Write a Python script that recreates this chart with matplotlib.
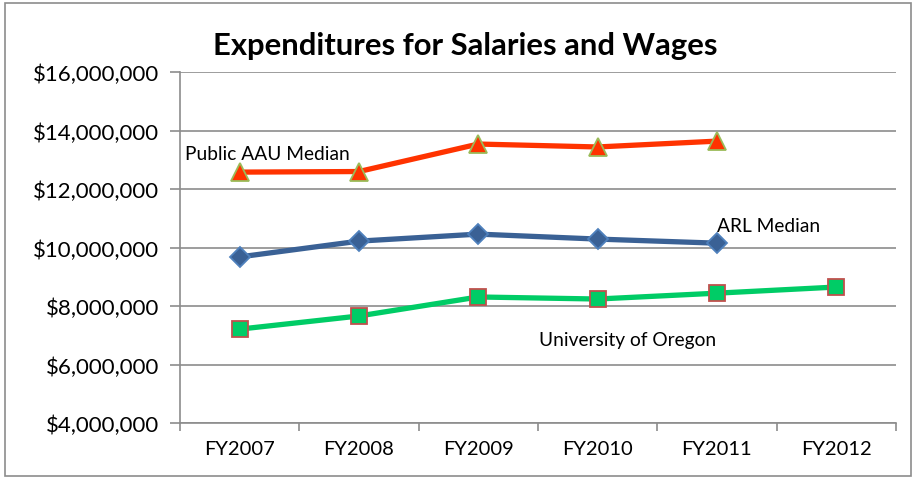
import matplotlib.pyplot as plt
from matplotlib.ticker import FuncFormatter, MultipleLocator

plt.rcParams['font.family'] = ['Lato', 'DejaVu Sans']

years = ['FY2007', 'FY2008', 'FY2009', 'FY2010', 'FY2011', 'FY2012']
aau_median = [12580000, 12600000, 13540000, 13440000, 13640000]
arl_median = [9680000, 10220000, 10460000, 10290000, 10150000]
uo = [7210000, 7660000, 8310000, 8240000, 8440000, 8650000]

fig = plt.figure(figsize=(9.16, 4.81), dpi=100)
ax = fig.add_axes([0.1965, 0.1185, 0.7815, 0.7295])

grey = '#8c8c8c'

ax.plot(range(len(aau_median)), aau_median, color='#ff3300', lw=3.8,
        marker='^', ms=13, mfc='#ff3300', mec='#9bbb59', mew=1.3, zorder=3)
ax.plot(range(len(arl_median)), arl_median, color='#3a6195', lw=3.8,
        marker='D', ms=10, mfc='#3a6195', mec='#4f81bd', mew=1.3, zorder=3)
ax.plot(range(len(uo)), uo, color='#00cc66', lw=3.8,
        marker='s', ms=12, mfc='#00cc66', mec='#c0504d', mew=1.3, zorder=3)

ax.text(-0.46, 13200000, 'Public AAU Median', fontsize=13.8, va='center', ha='left')
ax.text(4.0, 10770000, 'ARL Median', fontsize=13.8, va='center', ha='left')
ax.text(2.51, 6840000, 'University of Oregon', fontsize=13.8, va='center', ha='left')

ax.set_xlim(-0.5, len(years) - 0.5)
ax.set_ylim(4000000, 16000000)
ax.yaxis.set_major_locator(MultipleLocator(2000000))
ax.yaxis.set_major_formatter(FuncFormatter(lambda v, p: '${:,.0f}'.format(v)))
ax.set_xticks(range(len(years)))
ax.set_xticklabels(years)
ax.set_xticks([i - 0.5 for i in range(len(years) + 1)], minor=True)
ax.tick_params(axis='x', which='major', length=0, pad=12, labelsize=14.5)
ax.tick_params(axis='x', which='minor', length=6, color=grey, width=1.2)
ax.tick_params(axis='y', length=7, color=grey, width=1.2, labelsize=16, pad=8)

ax.grid(axis='y', color=grey, lw=1.2)
ax.set_axisbelow(True)
for s in ['top', 'right']:
    ax.spines[s].set_visible(False)
for s in ['left', 'bottom']:
    ax.spines[s].set_color(grey)
    ax.spines[s].set_linewidth(1.2)

fig.text(0.508, 0.905, 'Expenditures for Salaries and Wages', fontsize=22.3,
         fontweight='bold', ha='center', va='center')

fig.patches.append(plt.Rectangle((0.005, 0.008), 0.99, 0.984, transform=fig.transFigure,
                                 fill=False, edgecolor='#8c8c8c', lw=1.2))

fig.savefig('out.png', dpi=100)
